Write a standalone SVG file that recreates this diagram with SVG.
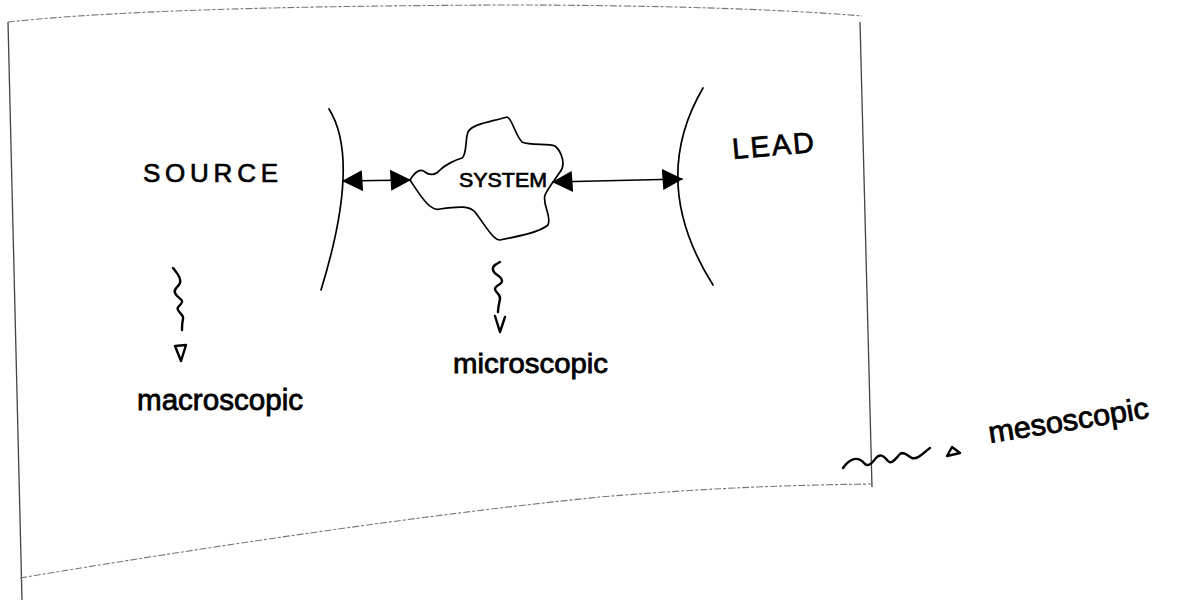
<svg xmlns="http://www.w3.org/2000/svg" width="1190" height="602" viewBox="0 0 1190 602">
  <style>
    .frame { fill: none; stroke: #444; stroke-width: 1.3; }
    .frame-light { fill: none; stroke: #777; stroke-width: 1.1; stroke-dasharray: 7 2 3 2; }
    .ink { fill: none; stroke: #000; stroke-width: 1.7; stroke-linecap: round; stroke-linejoin: round; }
    .ink-thick { fill: none; stroke: #000; stroke-width: 2.4; stroke-linecap: round; stroke-linejoin: round; }
    .caps { font-family: "Liberation Sans", Arial, sans-serif; fill: #000; stroke: #000; stroke-width: 0.7; }
    .hand { font-family: "Liberation Sans", Arial, sans-serif; fill: #000; stroke: #000; stroke-width: 0.8; }
  </style>
  <defs>
    <marker id="tri" viewBox="0 0 20 20" refX="19" refY="10" markerWidth="21" markerHeight="21" markerUnits="userSpaceOnUse" orient="auto-start-reverse">
      <path d="M0,0 L20,10 L1,20 Z" fill="#000"/>
    </marker>
  </defs>
  <rect width="1190" height="602" fill="#fff"/>

  <g id="frame">
    <path class="frame-light" d="M8,22 C120,10 300,6 500,5 C650,5 780,9 862,16"/>
    <path class="frame" d="M8,22 L22,600"/>
    <path class="frame" d="M860,22 L872,487"/>
    <path class="frame-light" d="M20,578 C200,548 420,515 600,497 C720,487 800,485 872,484"/>
  </g>

  <g id="source">
    <path class="ink" d="M329,109 Q361,160 321,290"/>
    <text class="caps" x="143" y="182" font-size="26" textLength="135" lengthAdjust="spacing">SOURCE</text>
  </g>

  <g id="lead">
    <path class="ink" d="M703,88 Q648,182 713,285"/>
    <text class="caps" x="733" y="159" font-size="29" textLength="82" lengthAdjust="spacing" transform="rotate(-5 733 159)">LEAD</text>
  </g>

  <g id="system">
    <path class="ink" d="M410,180 C415,172 420,168 425,172 C430,176 436,175 440,170 C445,165 455,160 462,158 C467,155 465,140 468,132 C472,124 490,122 507,117 C512,118 515,135 522,142 C530,146 548,143 555,146 C562,152 566,165 560,172 C556,178 548,188 545,195 C542,205 552,215 548,225 C540,232 520,236 500,240 C493,240 485,225 475,212 C470,206 460,206 440,209 C430,212 420,195 410,180 Z"/>
    <text class="caps" x="459" y="187" font-size="21" textLength="88" lengthAdjust="spacingAndGlyphs">SYSTEM</text>
  </g>

  <g id="connectors">
    <line class="ink" x1="343" y1="181" x2="410" y2="180" marker-start="url(#tri)" marker-end="url(#tri)"/>
    <line class="ink" x1="553" y1="182" x2="682" y2="179" marker-start="url(#tri)" marker-end="url(#tri)"/>
  </g>

  <g id="macroscopic">
    <path class="ink-thick" d="M173,268 C176,272 182,278 180,283 C178,288 173,288 175,293 C177,298 183,299 182,302 C181,306 176,306 178,310 C180,314 184,315 183,319 C182,323 182,327 182,330"/>
    <path class="ink-thick" d="M175,346 L186,345 L181,361 Z"/>
    <text class="hand" x="137" y="410" font-size="29" textLength="166" lengthAdjust="spacingAndGlyphs">macroscopic</text>
  </g>

  <g id="microscopic">
    <path class="ink-thick" d="M500,262 C496,264 492,266 493,270 C494,275 502,276 502,281 C502,285 495,285 495,289 C495,293 501,294 500,299 C499,304 498,308 498,312"/>
    <path class="ink-thick" d="M495,316 L500,332 L505,317"/>
    <text class="hand" x="453" y="373" font-size="28" textLength="155" lengthAdjust="spacingAndGlyphs">microscopic</text>
  </g>

  <g id="mesoscopic">
    <path class="ink-thick" d="M843,468 C850,458 858,456 864,463 C868,468 872,463 876,458 C880,453 884,456 888,461 C892,465 896,458 900,454 C904,451 908,456 912,458 C918,460 924,452 930,448"/>
    <path class="ink-thick" d="M947,456 L952,447 L960,453 Z"/>
    <text class="hand" x="990" y="443" font-size="30" textLength="162" lengthAdjust="spacingAndGlyphs" transform="rotate(-9 990 443)">mesoscopic</text>
  </g>
</svg>
